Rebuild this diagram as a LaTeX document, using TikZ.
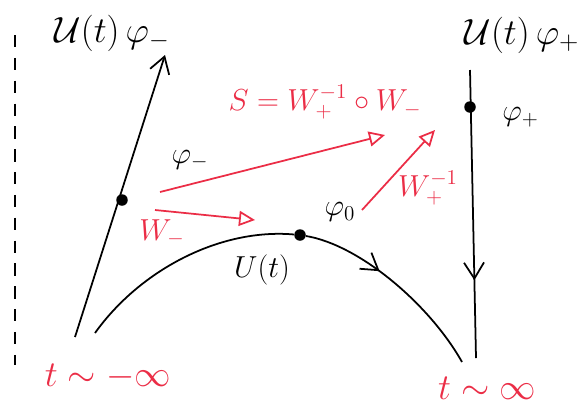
\documentclass[tikz,border=0pt]{standalone}
\usepackage{amsmath,amssymb}
\usetikzlibrary{positioning, arrows.meta, decorations.markings}
\definecolor{inkred}{RGB}{235,45,70}

\begin{document}
\begin{tikzpicture}[
    x=0.02cm, y=-0.02cm,
    pen/.style={line width=1pt, black},
    redpen/.style={line width=1pt, inkred, -{Triangle[open, length=3.2mm, width=3mm]}},
    barb/.style={-{Straight Barb[length=3.2mm, width=4mm]}},
    dot/.style={circle, fill=black, inner sep=0pt, minimum size=2.3mm},
    lbl/.style={font=\LARGE},
    redlbl/.style={font=\LARGE, text=inkred}
]
\useasboundingbox (0,0) rectangle (584,407);

% time axis on the left
\coordinate (axtop) at (15,35);
\coordinate (axbot) at (15,365);
\draw[pen, line width=1.2pt, dash pattern=on 7pt off 6pt] (axtop) -- (axbot);

% incoming free line
\coordinate (instart) at (75,337);
\coordinate (inend) at (165,55);
\draw[pen, barb] (instart) -- (inend);
\node[dot] (pminus) at (122,200) {};

% outgoing free line
\coordinate (outtop) at (470,70);
\coordinate (outbot) at (476,358);
\draw[pen, postaction={decorate}, decoration={markings,
    mark=at position 0.73 with {\arrow{Straight Barb[length=3.2mm, width=4mm]}}}]
    (outtop) -- (outbot);
\node[dot] (pplus) at (470,107) {};

% interacting evolution
\coordinate (ustart) at (95,333);
\node[dot] (pzero) at (300,235) {};
\coordinate (uend) at (462,362);
\draw[pen] (ustart) .. controls (140,270) and (220,228) .. (pzero);
\draw[pen, postaction={decorate}, decoration={markings,
    mark=at position 0.4 with {\arrow{Straight Barb[length=3.2mm, width=4mm]}}}]
    (pzero) .. controls (360,245) and (430,305) .. (uend);

% wave operators
\coordinate (phistart) at (160,192);
\coordinate (phiend) at (385,135);
\coordinate (wmstart) at (155,210);
\coordinate (wmend) at (255,220);
\coordinate (wpstart) at (362,210);
\coordinate (wpend) at (435,130);
\draw[redpen] (phistart) -- (phiend);
\draw[redpen] (wmstart) -- (wmend);
\draw[redpen] (wpstart) -- (wpend);

% labels
\node[lbl, font=\huge] (utminus) at (112,33) {$\mathcal{U}(t)\,\varphi_-$};
\node[lbl, font=\huge] (utplus) at (522,35) {$\mathcal{U}(t)\,\varphi_+$};
\node[lbl, right=4mm of pplus, yshift=-2mm] (lplus) {$\varphi_+$};
\node[lbl] (lphim) at (190,160) {$\varphi_-$};
\node[lbl] (lphi0) at (340,212) {$\varphi_0$};
\node[lbl] (lut) at (262,270) {$U(t)$};
\node[redlbl] (lwm) at (162,233) {$W_-$};
\node[redlbl] (lwp) at (428,188) {$W_+^{-1}$};
\node[redlbl] (lS) at (325,102) {$S = W_+^{-1}\circ W_-$};
\node[redlbl, font=\huge] (tminf) at (108,377) {$t\sim-\infty$};
\node[redlbl, font=\huge] (tpinf) at (487,388) {$t\sim\infty$};
\end{tikzpicture}
\end{document}
